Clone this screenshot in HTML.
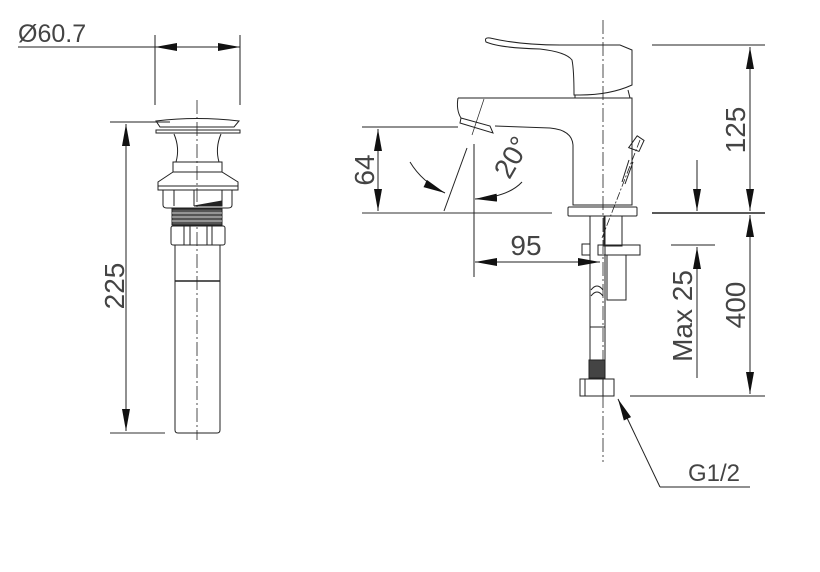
<!DOCTYPE html>
<html><head><style>
html,body{margin:0;padding:0;background:#fff;}
svg{display:block;}
text{font-family:"Liberation Sans",sans-serif;fill:#444;font-size:28px;}
</style></head><body>
<svg width="820" height="572" viewBox="0 0 820 572" xmlns="http://www.w3.org/2000/svg">
<defs>
<marker id="b" viewBox="0 0 22 8" refX="22" refY="4" markerWidth="22" markerHeight="8" orient="auto-start-reverse" markerUnits="userSpaceOnUse"><path d="M0,0 L22,4 L0,8z" fill="#111"/></marker>
</defs>
<g stroke="#222" stroke-width="1" fill="none">
<line x1="197" y1="100" x2="197" y2="440" stroke-dasharray="14,3,2,3" stroke-width="0.8"/>
<line x1="18" y1="47" x2="240" y2="47"/>
<line x1="155" y1="35" x2="155" y2="105"/>
<line x1="240" y1="35" x2="240" y2="105"/>
<line x1="180" y1="47" x2="155" y2="47" marker-end="url(#b)"/>
<line x1="215" y1="47" x2="240" y2="47" marker-end="url(#b)"/>
<line x1="110" y1="122" x2="170" y2="122"/>
<line x1="110" y1="433" x2="165" y2="433" stroke="#777" stroke-width="1.5"/>
<line x1="126" y1="124" x2="126" y2="431" marker-start="url(#b)" marker-end="url(#b)"/>
<path d="M156,121 Q197,116 239,121 L234,127 L160,127 Z"/>
<rect x="156" y="130" width="84" height="3"/>
<path d="M174,134 Q180,148 176,162 L219,162 Q215,148 221,134"/>
<rect x="173" y="162" width="49" height="10"/>
<path d="M173,172 L158,182 L158,186 L238,186 L238,182 L222,172 Z"/>
<rect x="158" y="186" width="80" height="4"/>
<path d="M163,190 L163,205 Q163,208 167,208 L228,208 Q232,208 232,205 L232,190"/>
<line x1="174" y1="190" x2="174" y2="206"/><line x1="194" y1="190" x2="194" y2="206"/><line x1="222" y1="190" x2="222" y2="206"/>
<path d="M194,206 L222,201 L222,206 Z" fill="#222"/>
<rect x="172" y="209" width="50" height="16" fill="#555"/>
<g stroke="#fff" stroke-width="0.7"><line x1="172" y1="213" x2="222" y2="213"/><line x1="172" y1="217" x2="222" y2="217"/><line x1="172" y1="221" x2="222" y2="221"/></g>
<rect x="171" y="226" width="54" height="19" rx="2"/>
<line x1="184" y1="226" x2="184" y2="245"/><line x1="190" y1="226" x2="190" y2="245"/><line x1="207" y1="226" x2="207" y2="245"/><line x1="212" y1="226" x2="212" y2="245"/>
<path d="M175,245 L175,430 Q175,433 178,433 L217,433 Q220,433 220,430 L220,245"/>
<line x1="175" y1="281" x2="220" y2="281" stroke-width="1.5"/>

<line x1="603" y1="20" x2="603" y2="462" stroke-dasharray="14,3,2,3" stroke-width="0.8"/>
<path d="M486,42 Q484,37 490,38 Q520,45 560,45 L620,45 L632,50 L632,85 Q610,95 580,95 L574,95 Q574,70 572,60 Q566,52 540,49 Q500,48 486,42 Z"/>
<path d="M575,95 L575,98 L630,98 L628,90"/>
<path d="M458,98 L632,98 L632,205 L573,205 L573,145 Q572,130 550,128 L495,126"/>
<path d="M458,98 Q456,110 461,118"/>
<path d="M461,118 L490,126 L493,133 L460,123 Z"/>
<line x1="484" y1="99" x2="472" y2="135" stroke-width="0.7"/>
<rect x="568" y="207" width="69" height="9" rx="1"/>
<line x1="590" y1="216" x2="590" y2="360"/>
<line x1="605" y1="216" x2="605" y2="360"/>
<rect x="604" y="216" width="18" height="30"/>
<rect x="598" y="245" width="42" height="10"/>
<rect x="607" y="255" width="19" height="45"/>
<rect x="582" y="244" width="8" height="11"/>
<path d="M591,290 Q597,282 603,290"/><path d="M591,296 Q597,288 603,296"/>
<line x1="590" y1="327" x2="605" y2="327"/>
<rect x="589" y="360" width="16" height="18" fill="#444"/>
<path d="M580,379 L614,379 L614,396 L580,396 Z"/>
<line x1="585" y1="379" x2="585" y2="396"/><line x1="603" y1="379" x2="603" y2="396"/>
<line x1="640" y1="140" x2="602" y2="238" stroke-dasharray="8,2,2,2" stroke-width="0.8"/>
<path d="M630,150 L634,136 L642,138 L641,150 Z" transform="rotate(20 636 145)"/>
<line x1="629" y1="160" x2="622" y2="182"/><line x1="633" y1="162" x2="625" y2="184"/>
<line x1="362" y1="127" x2="458" y2="127"/>
<line x1="362" y1="213" x2="552" y2="213" stroke="#777" stroke-width="1.5"/>
<line x1="378" y1="129" x2="378" y2="211" marker-start="url(#b)" marker-end="url(#b)"/>
<line x1="444" y1="211" x2="467" y2="148"/>
<path d="M410,162 Q422,182 445,193" marker-end="url(#b)"/>
<path d="M522,182 Q508,197 475,199" marker-end="url(#b)"/>
<line x1="474" y1="144" x2="474" y2="277"/>
<line x1="475" y1="262" x2="600" y2="262" marker-start="url(#b)" marker-end="url(#b)"/>
<line x1="652" y1="45" x2="765" y2="45"/>
<line x1="652" y1="213" x2="765" y2="213" stroke-width="1.5"/>
<line x1="630" y1="396" x2="765" y2="396"/>
<line x1="750" y1="47" x2="750" y2="211" marker-start="url(#b)" marker-end="url(#b)"/>
<line x1="750" y1="215" x2="750" y2="394" marker-start="url(#b)" marker-end="url(#b)"/>
<line x1="697" y1="160" x2="697" y2="211" marker-end="url(#b)"/>
<line x1="671" y1="245" x2="715" y2="245"/>
<line x1="697" y1="378" x2="697" y2="247" marker-end="url(#b)"/>
<polyline points="660,487 750,487"/>
<line x1="660" y1="487" x2="618" y2="399" marker-end="url(#b)"/>
</g>
<text x="18" y="42" style="font-size:25px">Ø60.7</text>
<text transform="translate(124,286) rotate(-90)" text-anchor="middle">225</text>
<text transform="translate(374,170) rotate(-90)" text-anchor="middle">64</text>
<text transform="translate(520,162) rotate(-60)" text-anchor="middle">20°</text>
<text x="526" y="255" text-anchor="middle">95</text>
<text transform="translate(745,130) rotate(-90)" text-anchor="middle">125</text>
<text transform="translate(745,305) rotate(-90)" text-anchor="middle">400</text>
<text transform="translate(692,316) rotate(-90)" text-anchor="middle">Max 25</text>
<text x="688" y="481" style="font-size:24px">G1/2</text>
</svg>
</body></html>
